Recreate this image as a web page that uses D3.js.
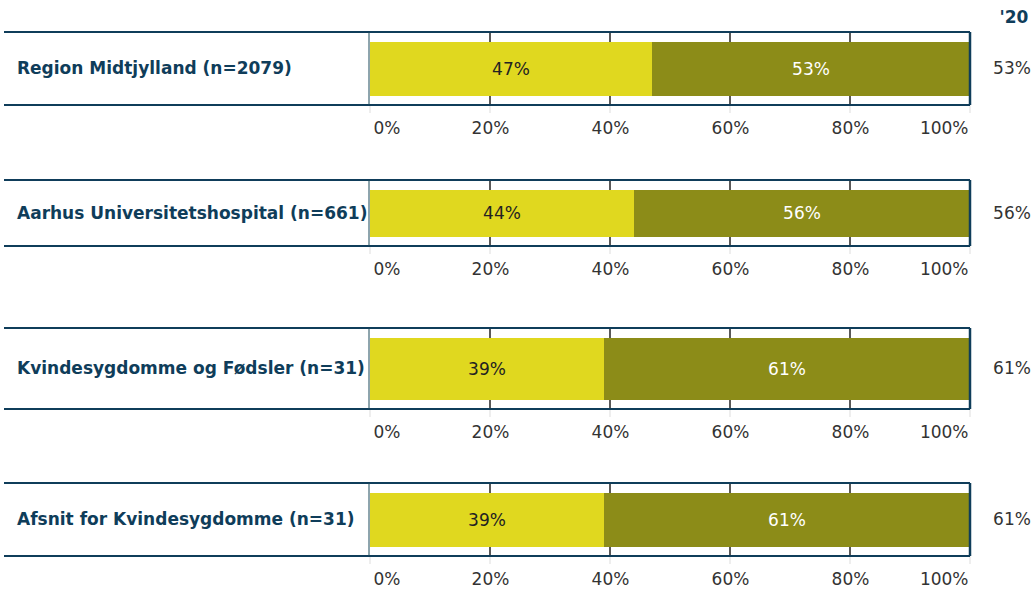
<!DOCTYPE html>
<html>
<head>
<meta charset="utf-8">
<script src="https://cdn.jsdelivr.net/npm/d3@7"></script>
<style>
  body { margin: 0; background: #fff; }
  svg { display: block; font-family: "DejaVu Sans", Verdana, sans-serif; }
</style>
</head>
<body>
<div id="chart"></div>
<script>
// data
const categories = [
  "Region Midtjylland (n=2079)",
  "Aarhus Universitetshospital (n=661)",
  "Kvindesygdomme og Fødsler (n=31)",
  "Afsnit for Kvindesygdomme (n=31)"
];
const lowShare = [47, 44, 39, 39];
const highShare = [53, 56, 61, 61];
const prevYear = [53, 56, 61, 61];
const prevYearLabel = "'20";
const ticks = [0, 20, 40, 60, 80, 100];

// layout (panel frames)
const panelTops = [32, 180, 328, 483];
const panelHeights = [73, 66, 81, 73];
const barTop = 10, barBottom = 9;

const width = 1036, height = 590;
const labelLeft = 4, plotLeft = 370, plotRight = 970;

const yellow = "#e0d81f", olive = "#8c8c18", navy = "#0f3d5a";

const svg = d3.select("#chart")
  .append("svg")
  .attr("width", width)
  .attr("height", height);

const x = d3.scaleLinear().domain([0, 100]).range([plotLeft, plotRight]);

const data = categories.map((c, i) => ({
  label: c, low: lowShare[i], high: highShare[i], prev: prevYear[i],
  top: panelTops[i], h: panelHeights[i]
}));

// header
svg.append("text")
  .attr("x", 1014)
  .attr("y", 23)
  .attr("text-anchor", "middle")
  .attr("font-size", 17)
  .attr("font-weight", "bold")
  .attr("fill", navy)
  .text(prevYearLabel);

const panel = svg.selectAll(".panel")
  .data(data)
  .enter()
  .append("g")
  .attr("class", "panel")
  .attr("transform", d => `translate(0, ${d.top})`);

// gridlines: faint stubs below the box, dark lines inside it
panel.each(function (d) {
  d3.select(this).selectAll(".stub")
    .data(ticks)
    .enter()
    .append("line")
    .attr("x1", t => x(t)).attr("x2", t => x(t))
    .attr("y1", d.h).attr("y2", d.h + 8)
    .attr("stroke", "#eeeeee")
    .attr("stroke-width", 2);

  d3.select(this).selectAll(".grid")
    .data(ticks.slice(1, -1))
    .enter()
    .append("line")
    .attr("x1", t => x(t)).attr("x2", t => x(t))
    .attr("y1", 0).attr("y2", d.h)
    .attr("stroke", "#222")
    .attr("stroke-width", 1.5);
});

// bars
panel.append("rect")
  .attr("x", x(0))
  .attr("y", barTop)
  .attr("width", d => x(d.low) - x(0))
  .attr("height", d => d.h - barTop - barBottom)
  .attr("fill", yellow);

panel.append("rect")
  .attr("x", d => x(d.low))
  .attr("y", barTop)
  .attr("width", d => x(d.low + d.high) - x(d.low))
  .attr("height", d => d.h - barTop - barBottom)
  .attr("fill", olive);

// bar labels
panel.append("text")
  .attr("x", d => x(d.low / 2))
  .attr("y", d => barTop + (d.h - barTop - barBottom) / 2)
  .attr("dy", "0.35em")
  .attr("text-anchor", "middle")
  .attr("font-size", 17)
  .attr("fill", "#222")
  .text(d => d.low + "%");

panel.append("text")
  .attr("x", d => x(d.low + d.high / 2))
  .attr("y", d => barTop + (d.h - barTop - barBottom) / 2)
  .attr("dy", "0.35em")
  .attr("text-anchor", "middle")
  .attr("font-size", 17)
  .attr("fill", "#fff")
  .text(d => d.high + "%");

// frame: top/bottom lines, box sides
panel.append("line")
  .attr("x1", labelLeft).attr("x2", plotRight)
  .attr("y1", 0).attr("y2", 0)
  .attr("stroke", navy).attr("stroke-width", 2);
panel.append("line")
  .attr("x1", labelLeft).attr("x2", plotRight)
  .attr("y1", d => d.h).attr("y2", d => d.h)
  .attr("stroke", navy).attr("stroke-width", 2);
panel.append("line")
  .attr("x1", plotLeft - 1).attr("x2", plotLeft - 1)
  .attr("y1", 0).attr("y2", d => d.h)
  .attr("stroke", "#1d4a5a").attr("stroke-width", 1);
panel.append("line")
  .attr("x1", plotRight).attr("x2", plotRight)
  .attr("y1", 0).attr("y2", d => d.h)
  .attr("stroke", navy).attr("stroke-width", 2.5);

// category labels
panel.append("text")
  .attr("x", 17)
  .attr("y", d => d.h / 2)
  .attr("dy", "0.35em")
  .attr("font-size", 17)
  .attr("font-weight", "bold")
  .attr("fill", navy)
  .text(d => d.label);

// previous year values
panel.append("text")
  .attr("x", 1012)
  .attr("y", d => d.h / 2)
  .attr("dy", "0.35em")
  .attr("text-anchor", "middle")
  .attr("font-size", 17)
  .attr("fill", "#333")
  .text(d => d.prev + "%");

// axis tick labels
panel.each(function (d) {
  const axis = d3.select(this).append("g")
    .attr("transform", `translate(0, ${d.h})`)
    .call(d3.axisBottom(x).tickValues(ticks).tickFormat(t => t + "%").tickSize(0).tickPadding(17));
  axis.select(".domain").remove();
  axis.selectAll("text")
    .attr("font-family", "DejaVu Sans, Verdana, sans-serif")
    .attr("font-size", 17)
    .attr("fill", "#333")
    .attr("text-anchor", t => t === 0 ? "start" : t === 100 ? "end" : "middle")
    .attr("dx", t => t === 0 ? 3 : t === 100 ? -2 : 0);
});
</script>
</body>
</html>
